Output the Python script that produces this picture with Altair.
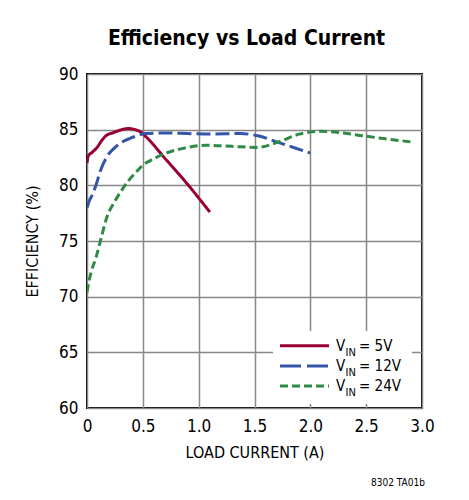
import altair as alt
import pandas as pd

FONT = "DejaVu Sans Condensed, Liberation Sans Narrow, sans-serif"

# efficiency curves
load_5v = [0, 0.01, 0.05, 0.09, 0.13, 0.17, 0.24, 0.31, 0.37, 0.43, 0.48, 0.53, 0.7, 0.9, 1.1]
eff_5v = [82.0, 82.6, 83.0, 83.4, 84.0, 84.45, 84.75, 85.0, 85.1, 85.0, 84.8, 84.35, 82.4, 80.1, 77.6]

load_12v = [0, 0.02, 0.05, 0.08, 0.12, 0.18, 0.24, 0.3, 0.38, 0.45, 0.52, 0.7, 0.9, 1.1, 1.37, 1.53, 1.7, 1.85, 2.0]
eff_12v = [78.0, 78.6, 79.2, 80.0, 81.3, 82.6, 83.3, 83.8, 84.2, 84.45, 84.65, 84.7, 84.65, 84.6, 84.65, 84.45, 83.9, 83.4, 82.9]

load_24v = [0, 0.02, 0.04, 0.08, 0.13, 0.18, 0.24, 0.3, 0.37, 0.45, 0.5, 0.6, 0.71, 0.85, 1.07, 1.3, 1.52, 1.73, 1.9, 2.1, 2.3, 2.47, 2.7, 2.9]
eff_24v = [70.4, 71.5, 72.3, 73.5, 75.4, 77.2, 78.4, 79.4, 80.4, 81.3, 81.8, 82.4, 82.9, 83.3, 83.6, 83.5, 83.4, 83.95, 84.6, 84.85, 84.7, 84.45, 84.15, 83.9]

series_names = ["5V", "12V", "24V"]
series_colors = ["#990033", "#3355aa", "#2e8b46"]
series_dash = [[1, 0], [14, 5], [8, 4]]
legend_dash = [[1, 0], [21, 6], [8, 4]]

x_ticks = [0, 0.5, 1.0, 1.5, 2.0, 2.5, 3.0]
y_ticks = [60, 65, 70, 75, 80, 85, 90]

W, H = 335, 334

frames = []
for name, xs, ys in zip(series_names, [load_5v, load_12v, load_24v], [eff_5v, eff_12v, eff_24v]):
    frames.append(pd.DataFrame({"load": xs, "eff": ys, "vin": name}))
df = pd.concat(frames, ignore_index=True)

lines = alt.Chart(df).mark_line(strokeWidth=3, interpolate="monotone", clip=True).encode(
    alt.X("load:Q", title="LOAD CURRENT (A)",
          scale=alt.Scale(domain=[0, 3], nice=False),
          axis=alt.Axis(values=x_ticks, labelExpr="datum.value == 0 ? '0' : format(datum.value, '.1f')",
                        labelPadding=10, labelFlush=False, titleX=W / 2, titleY=44,
                        titleBaseline="middle")),
    alt.Y("eff:Q", title="EFFICIENCY (%)",
          scale=alt.Scale(domain=[60, 90], nice=False),
          axis=alt.Axis(values=y_ticks, labelPadding=9, labelFlush=False, titleX=-55, titleY=H / 2,
                        titleAngle=-90, titleBaseline="middle")),
    color=alt.Color("vin:N", scale=alt.Scale(domain=series_names, range=series_colors), legend=None),
    strokeDash=alt.StrokeDash("vin:N", scale=alt.Scale(domain=series_names, range=series_dash), legend=None),
)

# white legend box hiding the grid
box = alt.Chart(pd.DataFrame({"a": [0]})).mark_rect(color="white").encode(
    x=alt.value(186), x2=alt.value(325), y=alt.value(257), y2=alt.value(330)
)

layers = [lines, box]
for i, name in enumerate(series_names):
    row = alt.Chart(pd.DataFrame({"a": [0]}))
    y0 = 271.7 + i * 20.2
    layers.append(row.mark_rule(color=series_colors[i], strokeWidth=3, strokeDash=legend_dash[i]).encode(
        x=alt.value(193), x2=alt.value(242), y=alt.value(y0)))
    layers.append(row.mark_text(text="V", font=FONT, fontSize=15, align="left", baseline="alphabetic").encode(
        x=alt.value(249), y=alt.value(y0 + 5)))
    layers.append(row.mark_text(text="IN", font=FONT, fontSize=11, align="left", baseline="alphabetic").encode(
        x=alt.value(258.5), y=alt.value(y0 + 10)))
    layers.append(row.mark_text(text="= " + name, font=FONT, fontSize=15, align="left", baseline="alphabetic").encode(
        x=alt.value(272), y=alt.value(y0 + 5)))

note = alt.Chart(pd.DataFrame({"a": [0]})).mark_text(
    text="8302 TA01b", font=FONT, fontSize=10, align="center", baseline="middle"
).encode(x=alt.value(311), y=alt.value(409))
layers.append(note)

chart = alt.layer(*layers).properties(
    width=W, height=H,
    autosize=alt.AutoSizeParams(type="none"),
    padding={"left": 79, "top": 66, "right": 39, "bottom": 84},
    title=alt.TitleParams("Efficiency vs Load Current", font=FONT, fontSize=21, fontWeight="bold",
                          anchor="middle", offset=16, dx=-8, color="black"),
).configure_view(
    stroke="black", strokeWidth=2
).configure_axis(
    grid=True, gridColor="#888888", gridWidth=1.5, domain=False, ticks=False, tickSize=0,
    labelFont=FONT, labelFontSize=17, labelColor="black",
    titleFont=FONT, titleFontSize=16, titleFontWeight="normal", titleColor="black",
)

chart.save("out.html", embed_options={"renderer": "svg", "actions": False})
